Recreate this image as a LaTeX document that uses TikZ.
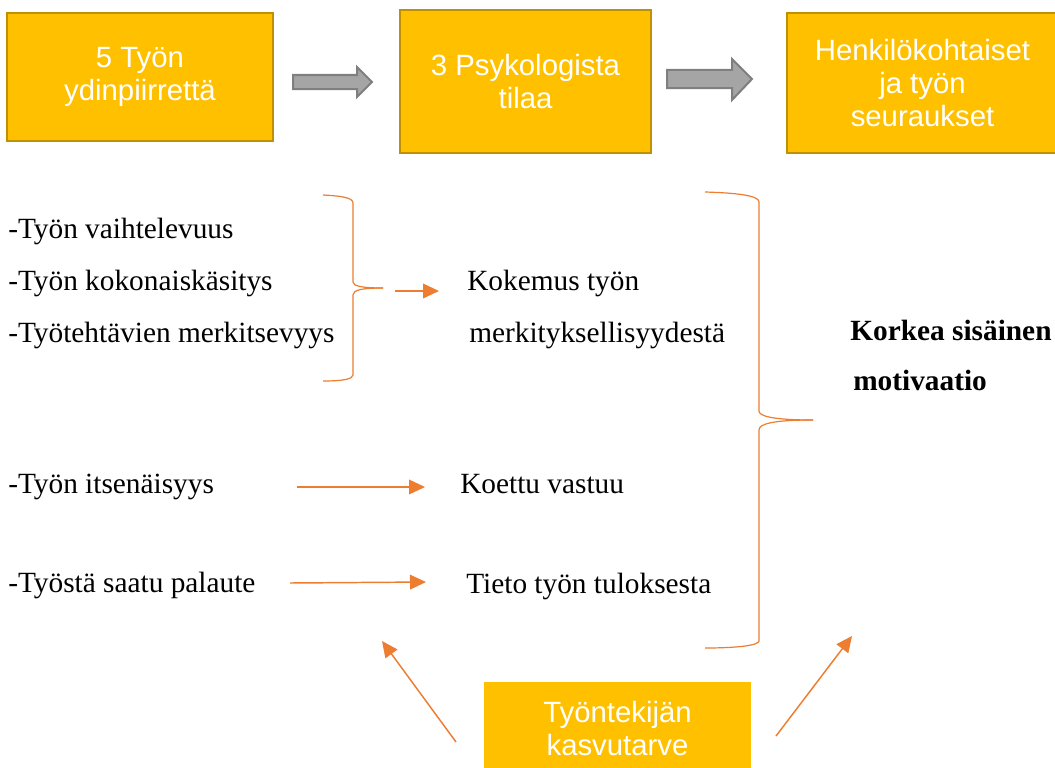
\documentclass[tikz,border=0pt]{standalone}
\usepackage{fontspec}
\setmainfont{Liberation Serif}
\newfontfamily\boxfont{Liberation Sans}
\usetikzlibrary{arrows.meta}
\usetikzlibrary{positioning}
\definecolor{boxfill}{RGB}{255,192,0}
\definecolor{boxline}{RGB}{191,144,0}
\definecolor{accent}{RGB}{237,125,49}
\definecolor{blockfill}{RGB}{165,165,165}
\definecolor{blockline}{RGB}{127,127,127}
\tikzset{
	headbox/.style={draw=boxline, line width=1.6pt, fill=boxfill, text=white, align=center, inner sep=0pt,
		font=\boxfont\fontsize{22}{25}\selectfont},
	needbox/.style={headbox, draw=none},
	item/.style={anchor=base west, inner sep=0pt, font=\fontsize{22}{25}\selectfont},
	flow/.style={accent, line width=1.1pt, -{Triangle[length=12pt,width=11pt]}},
	brace/.style={accent, line width=0.9pt},
	blockarrow/.style={draw=blockline, line width=1.5pt, fill=blockfill, line join=miter}
}
\begin{document}
\begin{tikzpicture}[x=0.75pt,y=-0.75pt]
	\clip (0,0) rectangle (1055,767);
	% top row
	\node[headbox, minimum width=199.5pt, minimum height=96pt] (ydin) at (140,77) {5 Työn\\ydinpiirrettä};
	\node[headbox, minimum width=188.25pt, minimum height=107.25pt] (tilat) at (525.5,81.5) {3 Psykologista\\tilaa};
	\node[headbox, minimum width=203.25pt, minimum height=105pt] (seur) at (922.5,83) {Henkilökohtaiset\\ja työn\\seuraukset};
	\draw[blockarrow] (293,75) -- (357,75) -- (357,67) -- (372,82) -- (357,97) -- (357,89) -- (293,89) -- cycle;
	\draw[blockarrow] (667,70) -- (732,70) -- (732,59) -- (752,79) -- (732,100) -- (732,88) -- (667,88) -- cycle;

	% core job characteristics
	\node[item] (vaiht) at (8,238) {-Työn vaihtelevuus};
	\node[item] (kokon) at (8,290) {-Työn kokonaiskäsitys};
	\node[item] (merk) at (8,342) {-Työtehtävien merkitsevyys};
	\node[item] (itsen) at (8,493) {-Työn itsenäisyys};
	\node[item] (palaute) at (8,592) {-Työstä saatu palaute};

	% psychological states
	\node[item] (kokemus) at (467,290) {Kokemus työn};
	\node[item] (merkit) at (469,342) {merkityksellisyydestä};
	\node[item] (vastuu) at (460,493) {Koettu vastuu};
	\node[item] (tieto) at (466,593) {Tieto työn tuloksesta};

	% outcome
	\node[item, font=\bfseries\fontsize{22}{25}\selectfont] (korkea) at (850,340) {Korkea sisäinen};
	\node[item, font=\bfseries\fontsize{22}{25}\selectfont] (motiv) at (853,390) {motivaatio};

	% braces
	\draw[brace] (323,195) .. controls (343,196) and (353,198) .. (353,203) -- (353,282)
		.. controls (353,286) and (362,288) .. (383,288);
	\draw[brace] (383,288) .. controls (362,288) and (353,290) .. (353,295) -- (353,375)
		.. controls (353,379) and (343,381) .. (323,381);
	\draw[brace] (705,192) .. controls (740,193) and (759,196) .. (759,202) -- (759,411)
		.. controls (759,416) and (772,420) .. (813,420);
	\draw[brace] (813,420) .. controls (772,420) and (759,424) .. (759,430) -- (759,641)
		.. controls (759,645) and (740,648) .. (705,648);

	% arrows
	\coordinate (k1) at (395,291);
	\coordinate (k2) at (439,291);
	\coordinate (v1) at (297,487);
	\coordinate (v2) at (425,487);
	\coordinate (t1) at (290,583);
	\coordinate (t2) at (426,582);
	\draw[flow] (k1) -- (k2);
	\draw[flow] (v1) -- (v2);
	\draw[flow] (t1) -- (t2);

	% growth need strength
	\node[needbox, minimum width=200.25pt, minimum height=69.75pt] (kasvu) at (617.5,728.5) {Työntekijän\\kasvutarve};
	\coordinate (g1) at (456,742);
	\coordinate (g2) at (382,641);
	\coordinate (h1) at (776,736);
	\coordinate (h2) at (852,636);
	\draw[flow] (g1) -- (g2);
	\draw[flow] (h1) -- (h2);
\end{tikzpicture}
\end{document}
